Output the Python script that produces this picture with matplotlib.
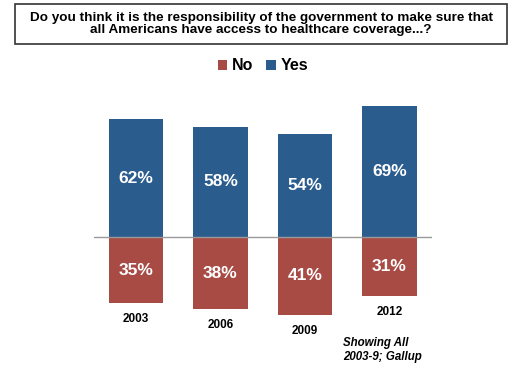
import numpy as np
import matplotlib.pyplot as plt
from matplotlib.patches import Rectangle

plt.rcParams['font.family'] = ['Liberation Sans', 'DejaVu Sans']

# Dados
anos = ['2003', '2006', '2009', '2012']
sim = [62, 58, 54, 69]
nao = [35, 38, 41, 31]

cor_sim = '#2A5C8E'
cor_nao = '#A84B45'

W, H = 526, 380
fig = plt.figure(figsize=(W / 100, H / 100), dpi=100)

# Caixa do título
fig.patches.append(Rectangle((15 / W, 1 - 44 / H), 492 / W, 40 / H,
                             transform=fig.transFigure, fill=False,
                             edgecolor='#333333', linewidth=1.2))
fig.text(261 / W, 1 - 24 / H,
         "Do you think it is the responsibility of the government to make sure that\n"
         "all Americans have access to healthcare coverage...?",
         ha='center', va='center', fontsize=9.7, fontweight='bold', linespacing=1.05)

ax = fig.add_axes([93.75 / W, 50 / H, 338 / W, 230 / H])
x = np.arange(len(anos))
largura = 0.64

b_nao = ax.bar(x, [-v for v in nao], largura, color=cor_nao, label='No')
b_sim = ax.bar(x, sim, largura, color=cor_sim, label='Yes')

for xi, s, n, ano in zip(x, sim, nao, anos):
    ax.text(xi, s / 2, f"{s}%", ha='center', va='center', color='white',
            fontsize=12.5, fontweight='bold')
    ax.text(xi, -n / 2, f"{n}%", ha='center', va='center', color='white',
            fontsize=12.5, fontweight='bold')
    ax.annotate(ano, (xi, -n), xytext=(0, -7), textcoords='offset points',
                ha='center', va='top', fontsize=8.5, fontweight='bold')

ax.axhline(0, color='#999999', linewidth=1)
ax.set_xlim(-0.5, 3.5)
ax.set_ylim(-48.95, 72.1)
ax.axis('off')

fig.legend(handles=[b_nao, b_sim], labels=['No', 'Yes'], loc='center',
           bbox_to_anchor=(263 / W, 1 - 66 / H), ncol=2, frameon=False,
           handlelength=0.6, handleheight=0.6, handletextpad=0.3,
           columnspacing=0.8, prop={'size': 11.5, 'weight': 'bold'})

fig.text(343 / W, 1 - 350 / H, "Showing All\n2003-9; Gallup", ha='left',
         va='center', fontsize=8.3, fontweight='bold', style='italic',
         linespacing=1.3)

plt.savefig('out.png', dpi=100)
